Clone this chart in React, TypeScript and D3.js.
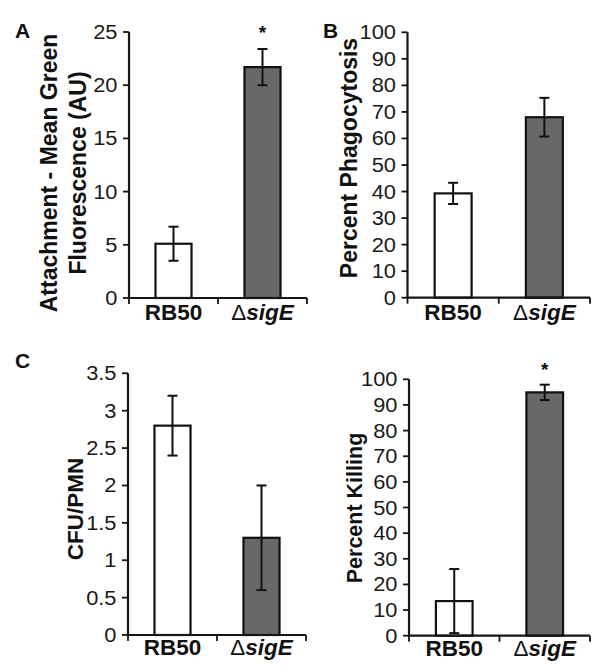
import React from "react";
import * as d3 from "d3";

// ---- data ----
const categories = ["RB50", "ΔsigE"];

const attachmentMean = [5.1, 21.7];
const attachmentErr = [1.6, 1.7];
const attachmentTicks = [0, 5, 10, 15, 20, 25];
const attachmentStar = [false, true];

const phagocytosisMean = [39.3, 68.0];
const phagocytosisErr = [4.0, 7.3];
const phagocytosisTicks = [0, 10, 20, 30, 40, 50, 60, 70, 80, 90, 100];
const phagocytosisStar = [false, false];

const cfuMean = [2.8, 1.3];
const cfuErr = [0.4, 0.7];
const cfuTicks = [0, 0.5, 1, 1.5, 2, 2.5, 3, 3.5];
const cfuTickLabels = ["0", "0.5", "1", "1.5", "2", "2.5", "3", "3.5"];
const cfuStar = [false, false];

const killingMean = [13.5, 94.9];
const killingErr = [12.5, 3.0];
const killingTicks = [0, 10, 20, 30, 40, 50, 60, 70, 80, 90, 100];
const killingStar = [false, true];

const barFills = ["#ffffff", "#686868"];

const FONT = "'Liberation Sans', Arial, Helvetica, sans-serif";

type Panel = {
  means: number[];
  errs: number[];
  ticks: number[];
  tickLabels: string[];
  stars: boolean[];
  axisX: number;
  x1: number;
  yTop: number;
  y0: number;
  labelLines: string[];
  labelX: number[];
  labelY: number;
  labelSize: number;
  catBaseline: number;
  starBaseline: number;
};

const panels: Panel[] = [
  {
    means: attachmentMean,
    errs: attachmentErr,
    ticks: attachmentTicks,
    tickLabels: attachmentTicks.map(String),
    stars: attachmentStar,
    axisX: 129,
    x1: 307,
    yTop: 32,
    y0: 298,
    labelLines: ["Attachment - Mean Green", "Fluorescence (AU)"],
    labelX: [57, 86],
    labelY: 173,
    labelSize: 23,
    catBaseline: 320,
    starBaseline: 39,
  },
  {
    means: phagocytosisMean,
    errs: phagocytosisErr,
    ticks: phagocytosisTicks,
    tickLabels: phagocytosisTicks.map(String),
    stars: phagocytosisStar,
    axisX: 407.5,
    x1: 590,
    yTop: 32.3,
    y0: 297.7,
    labelLines: ["Percent Phagocytosis"],
    labelX: [357],
    labelY: 158,
    labelSize: 23,
    catBaseline: 320,
    starBaseline: 39,
  },
  {
    means: cfuMean,
    errs: cfuErr,
    ticks: cfuTicks,
    tickLabels: cfuTickLabels,
    stars: cfuStar,
    axisX: 128,
    x1: 306,
    yTop: 373.3,
    y0: 635,
    labelLines: ["CFU/PMN"],
    labelX: [83],
    labelY: 509,
    labelSize: 22.5,
    catBaseline: 655,
    starBaseline: 376,
  },
  {
    means: killingMean,
    errs: killingErr,
    ticks: killingTicks,
    tickLabels: killingTicks.map(String),
    stars: killingStar,
    axisX: 409,
    x1: 590,
    yTop: 379.3,
    y0: 635.7,
    labelLines: ["Percent Killing"],
    labelX: [362],
    labelY: 508,
    labelSize: 21.5,
    catBaseline: 656,
    starBaseline: 376,
  },
];

const panelLetters = [
  { t: "A", x: 15, y: 38 },
  { t: "B", x: 323, y: 38 },
  { t: "C", x: 15, y: 368 },
];

function PanelChart({ p }: { p: Panel }) {
  const maxTick = p.ticks[p.ticks.length - 1];
  const y = d3.scaleLinear().domain([0, maxTick]).range([p.y0, p.yTop]);
  const x = d3.scaleBand<string>().domain(categories).range([p.axisX, p.x1]).paddingInner(0).paddingOuter(0);
  const bw = x.bandwidth();
  const barW = bw * 0.405;
  const axisColor = "#151515";
  return (
    <g>
      {/* bars */}
      {categories.map((c, i) => {
        const cx = (x(c) as number) + bw / 2;
        const top = y(p.means[i]);
        const eTop = y(p.means[i] + p.errs[i]);
        const eBot = y(p.means[i] - p.errs[i]);
        return (
          <g key={c}>
            <rect
              x={cx - barW / 2}
              y={top}
              width={barW}
              height={p.y0 - top}
              fill={barFills[i]}
              stroke="#111"
              strokeWidth={2.2}
            />
            <line x1={cx} x2={cx} y1={eTop} y2={eBot} stroke="#111" strokeWidth={2} />
            <line x1={cx - 5} x2={cx + 5} y1={eTop} y2={eTop} stroke="#111" strokeWidth={2} />
            <line x1={cx - 5} x2={cx + 5} y1={eBot} y2={eBot} stroke="#111" strokeWidth={2} />
            {p.stars[i] && (
              <text x={cx} y={p.starBaseline} textAnchor="middle" fontFamily={FONT} fontWeight="bold" fontSize={19} fill="#111">
                *
              </text>
            )}
          </g>
        );
      })}
      {/* y axis */}
      <line x1={p.axisX} x2={p.axisX} y1={p.y0} y2={p.yTop} stroke={axisColor} strokeWidth={2.2} />
      {p.ticks.map((t, i) => (
        <g key={"t" + i}>
          <line x1={p.axisX - 6} x2={p.axisX} y1={y(t)} y2={y(t)} stroke={axisColor} strokeWidth={1.8} />
          <g transform={`translate(${p.axisX - 11.5},${y(t) + 7}) scale(1.12,1)`}>
            <text textAnchor="end" fontFamily={FONT} fontSize={19.5} fill="#1a1a1a">
              {p.tickLabels[i]}
            </text>
          </g>
        </g>
      ))}
      {/* x axis */}
      <line x1={p.axisX - 1} x2={p.x1} y1={p.y0} y2={p.y0} stroke={axisColor} strokeWidth={2.2} />
      {[p.axisX, p.axisX + bw, p.x1].map((tx, i) => (
        <line key={"xt" + i} x1={tx} x2={tx} y1={p.y0} y2={p.y0 + 6} stroke={axisColor} strokeWidth={1.8} />
      ))}
      {/* category labels */}
      {categories.map((c) => {
        const cx = (x(c) as number) + bw / 2;
        if (c.startsWith("Δ")) {
          return (
            <text key={"l" + c} x={cx} y={p.catBaseline} textAnchor="middle" fontFamily={FONT} fontSize={22.5} fill="#111">
              <tspan fontWeight="normal">Δ</tspan>
              <tspan fontWeight="bold" fontStyle="italic">{c.slice(1)}</tspan>
            </text>
          );
        }
        return (
          <text key={"l" + c} x={cx} y={p.catBaseline} textAnchor="middle" fontFamily={FONT} fontWeight="bold" fontSize={22.5} fill="#111">
            {c}
          </text>
        );
      })}
      {/* y label */}
      {p.labelLines.map((l, i) => (
        <text
          key={"yl" + i}
          transform={`translate(${p.labelX[i]},${p.labelY}) rotate(-90)`}
          textAnchor="middle"
          fontFamily={FONT}
          fontWeight="bold"
          fontSize={p.labelSize}
          fill="#111"
        >
          {l}
        </text>
      ))}
    </g>
  );
}

export default function App() {
  return (
    <svg
      width={600}
      height={672}
      viewBox="0 0 600 672"
      style={{ position: "absolute", left: 0, top: 0, background: "#fff" }}
    >
      <rect x={0} y={0} width={600} height={672} fill="#fff" />
      {panels.map((p, i) => (
        <PanelChart key={i} p={p} />
      ))}
      {panelLetters.map((l) => (
        <text key={l.t} x={l.x} y={l.y} fontFamily={FONT} fontWeight="bold" fontSize={21} fill="#111">
          {l.t}
        </text>
      ))}
    </svg>
  );
}
